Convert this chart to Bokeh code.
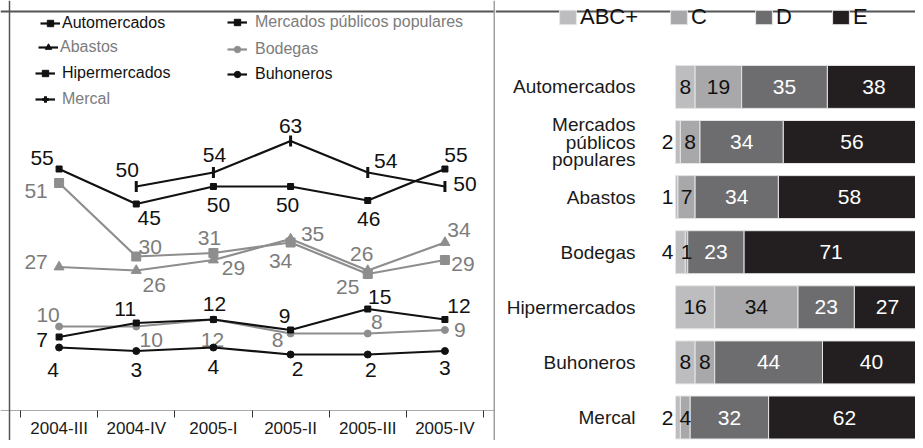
import math
from bokeh.plotting import figure
from bokeh.models import ColumnDataSource, FixedTicker, Legend, LegendItem, Range1d, Span
from bokeh.layouts import row
from bokeh.embed import file_html
from bokeh.resources import INLINE
from bokeh.core.properties import value

FONT = "Liberation Sans"

# ---------------- data: left panel (time series, %) ----------------
quarters = ["2004-III", "2004-IV", "2005-I", "2005-II", "2005-III", "2005-IV"]
automercados = [55, 45, 50, 50, 46, 55]
mercados = [51, 30, 31, 34, 25, 29]
abastos = [27, 26, 29, 35, 26, 34]
bodegas = [10, 10, 12, 8, 8, 9]
hipermercados = [7, 11, 12, 9, 15, 12]
buhoneros = [4, 3, 4, 2, 2, 3]
mercal = [None, 50, 54, 63, 54, 50]

# ---------------- data: right panel (stacked %, by social class) ----------------
canales = ["Automercados", "Mercados\npúblicos\npopulares", "Abastos", "Bodegas",
           "Hipermercados", "Buhoneros", "Mercal"]
clases = ["ABC+", "C", "D", "E"]
abc = [8, 2, 1, 4, 16, 8, 2]
c = [19, 8, 7, 1, 34, 8, 4]
d = [35, 34, 34, 23, 23, 44, 32]
e = [38, 56, 58, 71, 27, 40, 62]

# ---------------- styling ----------------
BLACK = "#111111"
GRAY_LINE = "#8e8e8e"
GRAY_TXT = "#7c7c7c"
NAN = float("nan")

W_L, W_R, H = 495, 420, 440

# label offsets in px (dx, dy: screen, dy positive = down)
offsets = {
    "Automercados": [(-17, -11), (13, 14), (5, 18), (-3, 18), (1, 18), (11, -14)],
    "Mercal": [(0, 0), (-9, -17), (1, -18), (0, -15), (18, -12), (20, -3)],
    "Mercados públicos populares": [(-23, 8), (14, -10), (-4, -15), (-10, 18), (-20, 13), (18, 4)],
    "Abastos": [(-23, -5), (18, 14), (20, 8), (22, -5), (-6, -17), (14, -13)],
    "Hipermercados": [(-17, 3), (-11, -14), (1, -16), (-6, -14), (12, -12), (14, -14)],
    "Bodegas": [(-11, -12), (15, 13), (-1, 20), (-13, 6), (9, -12), (15, 0)],
    "Buhoneros": [(-6, 22), (0, 19), (0, 19), (7, 14), (3, 15), (0, 17)],
}

series = [
    # name, values, line color, marker, size, angle, label color,
    # legend icon color, legend text color, legend marker, legend marker size
    ("Automercados", automercados, BLACK, "square", 6, 0, BLACK, BLACK, BLACK, "square", 6),
    ("Mercados públicos populares", mercados, GRAY_LINE, "square", 9, 0, GRAY_TXT, BLACK, GRAY_TXT, "square", 9),
    ("Abastos", abastos, GRAY_LINE, "triangle", 10, 0, GRAY_TXT, BLACK, GRAY_TXT, "triangle", 10),
    ("Bodegas", bodegas, GRAY_LINE, "circle", 7, 0, GRAY_TXT, GRAY_LINE, GRAY_TXT, "circle", 6),
    ("Hipermercados", hipermercados, BLACK, "square", 6, 0, BLACK, BLACK, BLACK, "square", 5),
    ("Buhoneros", buhoneros, BLACK, "circle", 7, 0, BLACK, BLACK, BLACK, "circle", 6),
    ("Mercal", mercal, BLACK, "dash", 11, math.pi / 2, BLACK, BLACK, GRAY_TXT, "cross", 12),
]

# legend placement (glyph left x, text left x, center y) in canvas px
legend_pos = {
    "Automercados": (40, 62, 24),
    "Abastos": (38, 60, 48),
    "Hipermercados": (35, 62, 74),
    "Mercal": (35, 62, 100),
    "Mercados públicos populares": (227, 255, 23),
    "Bodegas": (227, 255, 50),
    "Buhoneros": (227, 255, 75),
}

# ---------------- left figure ----------------
PX_PER_Q = 77.17      # px per quarter
Q0_PX = 20            # px of first boundary
PX_PER_V = 3.5        # px per percentage point
V0_PX = 361           # px of value 0

lx0 = -Q0_PX / PX_PER_Q
lx1 = (W_L - Q0_PX) / PX_PER_Q
ly1 = V0_PX / PX_PER_V
ly0 = (V0_PX - H) / PX_PER_V

left = figure(width=W_L, height=H, output_backend="svg", toolbar_location=None,
              x_range=Range1d(lx0, lx1), y_range=Range1d(ly0, ly1),
              min_border_left=0, min_border_right=0, min_border_top=0, min_border_bottom=0)
left.background_fill_color = "white"
left.border_fill_color = "white"
left.outline_line_color = None
left.xgrid.visible = False
left.ygrid.visible = False
left.yaxis.visible = False

# frame lines of the panel
left.add_layout(Span(location=(V0_PX - 11) / PX_PER_V, dimension="width",
                     line_color="#555555", line_width=2))
left.add_layout(Span(location=(9 - Q0_PX) / PX_PER_Q, dimension="height",
                     line_color="#555555", line_width=1.5))
left.add_layout(Span(location=(494 - Q0_PX) / PX_PER_Q, dimension="height",
                     line_color="#a0a0a0", line_width=2))

xs = [i + 0.5 for i in range(len(quarters))]
xa = left.xaxis[0]
xa.fixed_location = (V0_PX - 410) / PX_PER_V
xa.ticker = FixedTicker(ticks=xs, minor_ticks=list(range(len(quarters) + 1)))
xa.major_label_overrides = {x: q for x, q in zip(xs, quarters)}
xa.major_tick_line_color = None
xa.major_tick_out = 0
xa.major_tick_in = 0
xa.minor_tick_out = 7
xa.minor_tick_in = 0
xa.minor_tick_line_color = "#333333"
xa.minor_tick_line_width = 1
xa.axis_line_color = "#aaaaaa"
xa.axis_line_width = 1
xa.major_label_standoff = 1
xa.major_label_text_font = FONT
xa.major_label_text_font_size = "17px"
xa.major_label_text_color = "#1a1a1a"

for name, vals, lcol, marker, msize, ang, tcol, icol, ltcol, lmarker, lmsize in series:
    yv = [NAN if v is None else v for v in vals]
    src = ColumnDataSource(dict(x=xs, y=yv))
    left.line("x", "y", source=src, line_color=lcol, line_width=2.2)
    if marker == "dash":
        left.scatter("x", "y", source=src, marker=marker, size=msize, angle=ang,
                     line_color=lcol, line_width=3)
    else:
        left.scatter("x", "y", source=src, marker=marker, size=msize,
                     fill_color=lcol, line_color=lcol)
    offs = offsets[name]
    lx, ly, lt, dx, dy = [], [], [], [], []
    for i, v in enumerate(vals):
        if v is None:
            continue
        lx.append(xs[i]); ly.append(v); lt.append(str(v))
        dx.append(offs[i][0]); dy.append(offs[i][1])
    lsrc = ColumnDataSource(dict(x=lx, y=ly, t=lt, dx=dx, dy=dy))
    left.text("x", "y", text="t", x_offset="dx", y_offset="dy", source=lsrc,
              text_align="center", text_baseline="middle", text_font=value(FONT),
              text_font_size="21px", text_color=tcol)

    # legend entry (icon drawn with its own invisible-data renderers)
    isrc = ColumnDataSource(dict(x=[NAN], y=[NAN]))
    r1 = left.line("x", "y", source=isrc, line_color=icol, line_width=2.2)
    if lmarker == "cross":
        r2 = left.scatter("x", "y", source=isrc, marker=lmarker, size=lmsize,
                          line_color=icol, line_width=3)
    else:
        r2 = left.scatter("x", "y", source=isrc, marker=lmarker, size=lmsize,
                          fill_color=icol, line_color=icol)
    gx, tx, cy = legend_pos[name]
    gw = 20
    lg = Legend(items=[LegendItem(label=name, renderers=[r1, r2])],
                location=(gx, H - (cy + 8)),
                glyph_width=gw, glyph_height=16, label_height=16,
                label_standoff=tx - gx - gw, padding=0, margin=0, spacing=0,
                border_line_color=None, background_fill_alpha=0,
                label_text_font=FONT, label_text_font_size="16px",
                label_text_color=ltcol)
    left.add_layout(lg, "center")

# ---------------- right figure ----------------
PX_PER_PCT = 2.45
BAR0_PX = 180          # bar start, px from the panel's left edge
ROW_PX = 55.1          # px per row
ROW0_PX = 417          # px of the lowest row centre
x0 = -BAR0_PX / PX_PER_PCT
x1 = x0 + W_R / PX_PER_PCT
yr1 = ROW0_PX / ROW_PX
yr0 = (ROW0_PX - H) / ROW_PX
right = figure(width=W_R, height=H, output_backend="svg", toolbar_location=None,
               x_range=Range1d(x0, x1), y_range=Range1d(yr0, yr1),
               min_border_left=0, min_border_right=0, min_border_top=0, min_border_bottom=0)
right.background_fill_color = "white"
right.border_fill_color = "white"
right.outline_line_color = None
right.xgrid.visible = False
right.ygrid.visible = False
right.xaxis.visible = False

n = len(canales)
ypos = [n - 1 - i for i in range(n)]
src = ColumnDataSource(dict(y=ypos, abc=abc, c=c, d=d, e=e))
colors = ["#bdbdc0", "#a8a8aa", "#6d6d70", "#231f20"]
rs = right.hbar_stack(["abc", "c", "d", "e"], y="y", height=0.78, color=colors,
                      line_color="#e6e6e6", line_width=1, source=src)

# segment labels
in_x, in_y, in_t, in_c = [], [], [], []
out_x, out_y, out_t = [], [], []
for i in range(n):
    vals = [abc[i], c[i], d[i], e[i]]
    txtcol = ["#111111", "#111111", "white", "white"]
    start = 0
    for k, v in enumerate(vals):
        if k == 0 and v < 5:
            out_x.append(0); out_y.append(ypos[i]); out_t.append(str(v))
        else:
            in_x.append(start + v / 2); in_y.append(ypos[i]); in_t.append(str(v)); in_c.append(txtcol[k])
        start += v
right.text(x="x", y="y", text="t", text_color="col",
           source=ColumnDataSource(dict(x=in_x, y=in_y, t=in_t, col=in_c)),
           text_align="center", text_baseline="middle", text_font=value(FONT),
           text_font_size="21px")
right.text(x="x", y="y", text="t", x_offset=-2,
           source=ColumnDataSource(dict(x=out_x, y=out_y, t=out_t)),
           text_align="right", text_baseline="middle", text_font=value(FONT),
           text_font_size="21px", text_color="#111111")

ya = right.yaxis[0]
ya.fixed_location = 0
ya.ticker = FixedTicker(ticks=ypos)
ya.major_label_overrides = {y: name for y, name in zip(ypos, canales)}
ya.axis_line_color = None
ya.major_tick_line_color = None
ya.minor_tick_line_color = None
ya.major_tick_out = 0
ya.major_tick_in = 0
ya.major_label_standoff = 40
ya.major_label_text_font = FONT
ya.major_label_text_font_size = "19px"
ya.major_label_text_color = "#1a1a1a"
ya.major_label_text_line_height = 0.82

right.add_layout(Span(location=(ROW0_PX - 11) / ROW_PX, dimension="width",
                      line_color="#555555", line_width=2))

leg_x = [62, 173, 258, 335]
for r, lab, gx in zip(rs, clases, leg_x):
    lg = Legend(items=[LegendItem(label=lab, renderers=[r])],
                location=(gx, H - 30),
                glyph_width=21, glyph_height=18, label_height=18,
                label_standoff=2, padding=0, margin=0, spacing=0,
                border_line_color=None, background_fill_alpha=0,
                label_text_font=FONT, label_text_font_size="22px",
                label_text_color="#111111")
    right.add_layout(lg, "center")

layout = row(left, right)
open("out.html", "w").write(file_html(layout, INLINE))
